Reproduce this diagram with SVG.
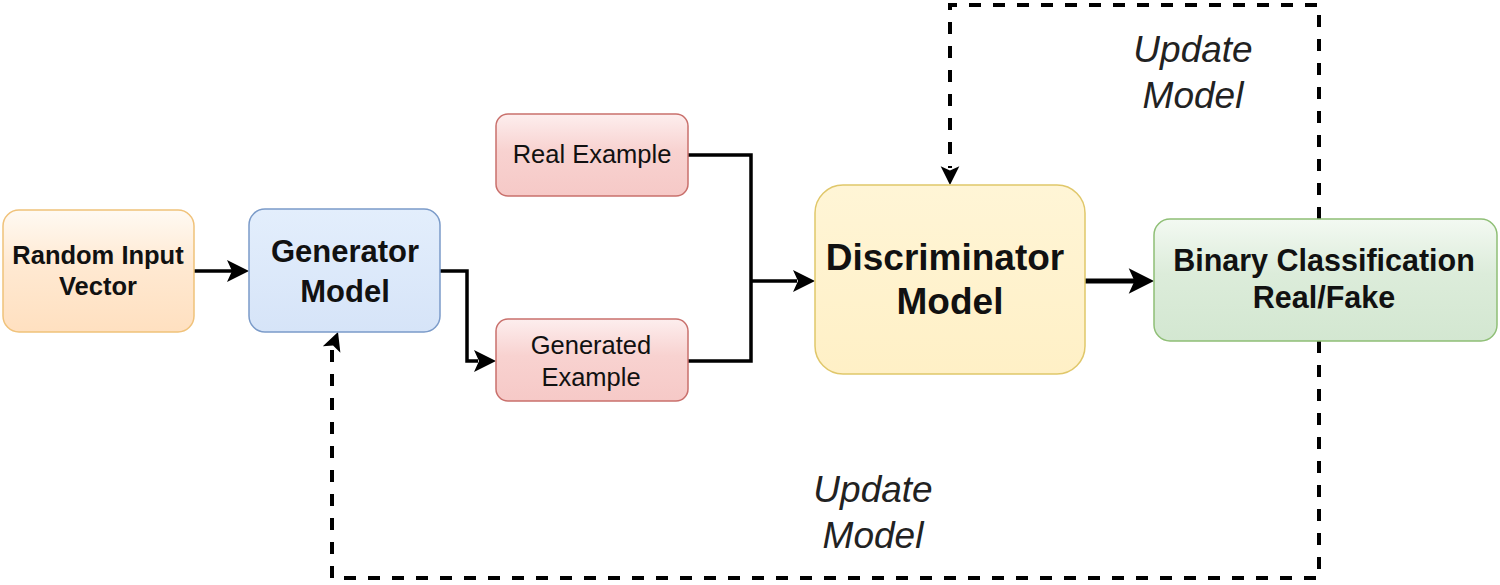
<svg xmlns="http://www.w3.org/2000/svg" width="1500" height="585" viewBox="0 0 1500 585">
<style>
.lbl{font-family:"Liberation Sans",Arial,sans-serif;fill:#111;text-anchor:middle}
.b{font-weight:bold}
.it{font-style:italic;font-size:37px;fill:#222}
.ln{fill:none;stroke:#000;stroke-width:3.5}
.dash{fill:none;stroke:#000;stroke-width:4;stroke-dasharray:12 12}
</style>
<defs>
<linearGradient id="gO" x1="0" y1="0" x2="0" y2="1"><stop offset="0" stop-color="#fffaf3"/><stop offset="0.45" stop-color="#ffe9d2"/><stop offset="1" stop-color="#ffe0c0"/></linearGradient>
<linearGradient id="gB" x1="0" y1="0" x2="0" y2="1"><stop offset="0" stop-color="#e3eefc"/><stop offset="1" stop-color="#d6e4f8"/></linearGradient>
<linearGradient id="gR" x1="0" y1="0" x2="0" y2="1"><stop offset="0" stop-color="#fdeeee"/><stop offset="0.45" stop-color="#f8d2d0"/><stop offset="1" stop-color="#f6c9c7"/></linearGradient>
<linearGradient id="gY" x1="0" y1="0" x2="0" y2="1"><stop offset="0" stop-color="#fff5d6"/><stop offset="1" stop-color="#fff0c6"/></linearGradient>
<linearGradient id="gG" x1="0" y1="0" x2="0" y2="1"><stop offset="0" stop-color="#f3f9f2"/><stop offset="0.45" stop-color="#dcecda"/><stop offset="1" stop-color="#d3e7d1"/></linearGradient>
<path id="head" d="M-22,-11 L0,0 L-22,11 L-17,0 Z" fill="#000"/>
</defs>
<g id="connectors">
<path class="ln" d="M194,271 L232,271"/>
<use href="#head" transform="translate(249,271)"/>
<path class="ln" d="M440,271 L467,271 L467,361 L478,361"/>
<use href="#head" transform="translate(496,361)"/>
<path class="ln" d="M688,155 L751,155 L751,361 L688,361"/>
<path class="ln" d="M751,281 L797,281"/>
<use href="#head" transform="translate(815,281)"/>
<path class="ln" d="M1085,281 L1135,281" style="stroke-width:5"/>
<use href="#head" transform="translate(1154,281) scale(1.15)"/>
<path class="dash" d="M1319,219 L1319,5 L950,5 L950,168"/>
<use href="#head" transform="translate(950,185) rotate(90) scale(0.85)"/>
<path class="dash" d="M1319,341 L1319,578 L332,578 L332,345"/>
<use href="#head" transform="translate(338,332) rotate(-70) scale(0.85)"/>
</g>
<g id="random">
<rect x="3" y="210" width="191" height="122" rx="16" fill="url(#gO)" stroke="#f0c27a" stroke-width="1.5"/>
<text class="lbl b" x="98" y="264" font-size="25.5">Random Input</text>
<text class="lbl b" x="98" y="295" font-size="25.5">Vector</text>
</g>
<g id="generator">
<rect x="249" y="209" width="191" height="123" rx="16" fill="url(#gB)" stroke="#7b9bc9" stroke-width="1.5"/>
<text class="lbl b" x="345" y="262" font-size="31">Generator</text>
<text class="lbl b" x="345" y="302" font-size="31">Model</text>
</g>
<g id="real">
<rect x="496" y="114" width="192" height="82" rx="12" fill="url(#gR)" stroke="#c9706c" stroke-width="1.5"/>
<text class="lbl" x="592" y="163" font-size="25.5">Real Example</text>
</g>
<g id="generated">
<rect x="496" y="319" width="192" height="82" rx="12" fill="url(#gR)" stroke="#c9706c" stroke-width="1.5"/>
<text class="lbl" x="591" y="354" font-size="25.5">Generated</text>
<text class="lbl" x="591" y="386" font-size="25.5">Example</text>
</g>
<g id="discriminator">
<rect x="815" y="185" width="270" height="189" rx="28" fill="url(#gY)" stroke="#e0c76a" stroke-width="1.5"/>
<text class="lbl b" x="945" y="270" font-size="37">Discriminator</text>
<text class="lbl b" x="950" y="314" font-size="37">Model</text>
</g>
<g id="binary">
<rect x="1154" y="219" width="343" height="122" rx="16" fill="url(#gG)" stroke="#8fbf76" stroke-width="1.5"/>
<text class="lbl b" x="1324" y="271" font-size="30.5">Binary Classification</text>
<text class="lbl b" x="1324" y="308" font-size="30.5">Real/Fake</text>
</g>
<g id="labels">
<text class="lbl it" x="1193" y="62">Update</text>
<text class="lbl it" x="1193" y="108">Model</text>
<text class="lbl it" x="873" y="502">Update</text>
<text class="lbl it" x="873" y="548">Model</text>
</g>
</svg>
